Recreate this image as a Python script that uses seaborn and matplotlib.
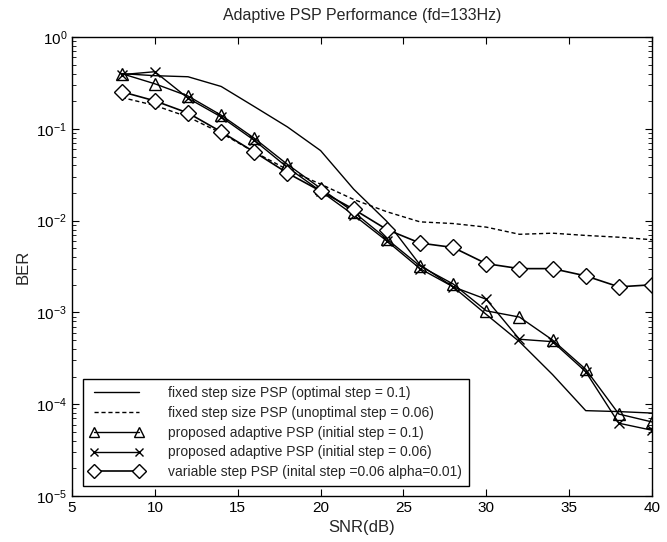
import numpy as np
import pandas as pd
import matplotlib
matplotlib.use("Agg")
import matplotlib.pyplot as plt
import seaborn as sns

# SNR points (dB)
snr = [8, 10, 12, 14, 16, 18, 20, 22, 24, 26, 28, 30, 32, 34, 36, 38, 40]

# BER values
fixed_opt = [0.40, 0.38, 0.37, 0.29, 0.175, 0.105, 0.058, 0.022, 0.0098, 0.0033,
             0.0019, 0.00095, 0.00048, 0.00021, 0.000085, 0.000083, 0.00008]
fixed_unopt = [0.22, 0.18, 0.135, 0.09, 0.056, 0.036, 0.025, 0.017, 0.0125, 0.0097,
               0.0093, 0.0085, 0.0071, 0.0073, 0.0069, 0.0066, 0.0062]
adapt_01 = [0.40, 0.31, 0.228, 0.141, 0.079, 0.041, 0.0225, 0.0124, 0.0063, 0.0032,
            0.00204, 0.00104, 0.00089, 0.0005, 0.00024, 0.000078, 0.000064]
adapt_006 = [0.39, 0.42, 0.216, 0.135, 0.075, 0.038, 0.021, 0.0115, 0.0060, 0.0030,
             0.0019, 0.00139, 0.00051, 0.00048, 0.000226, 0.000062, 0.000052]
variable_step = [0.254, 0.202, 0.149, 0.093, 0.056, 0.033, 0.021, 0.0133, 0.0080, 0.0057,
                 0.0051, 0.0034, 0.0030, 0.0030, 0.0025, 0.0019, 0.0020]

labels = ["fixed step size PSP (optimal step = 0.1)",
          "fixed step size PSP (unoptimal step = 0.06)",
          "proposed adaptive PSP (initial step = 0.1)",
          "proposed adaptive PSP (initial step = 0.06)",
          "variable step PSP (inital step =0.06 alpha=0.01)"]

sns.set_style("ticks")
plt.rcParams['font.family'] = ['Liberation Sans', 'DejaVu Sans']
plt.rcParams['mathtext.fontset'] = 'custom'
plt.rcParams['mathtext.rm'] = 'Liberation Sans'
plt.rcParams['mathtext.default'] = 'regular'

fig = plt.figure(figsize=(6.67, 5.42), dpi=100)
ax = fig.add_axes([0.108, 0.085, 0.8695, 0.8465])

#drawing each series
sns.lineplot(x=snr, y=fixed_opt, ax=ax, color="black", linewidth=1.0, label=labels[0])
sns.lineplot(x=snr, y=fixed_unopt, ax=ax, color="black", linewidth=1.0, linestyle=(0, (3, 2)), label=labels[1])
sns.lineplot(x=snr, y=adapt_01, ax=ax, color="black", linewidth=1.0, marker="^", markersize=9,
             markerfacecolor="none", markeredgecolor="black", markeredgewidth=1.0, label=labels[2])
sns.lineplot(x=snr, y=adapt_006, ax=ax, color="black", linewidth=1.0, marker="x", markersize=7,
             markeredgecolor="black", markeredgewidth=1.0, label=labels[3])
sns.lineplot(x=snr, y=variable_step, ax=ax, color="black", linewidth=1.2, marker="D", markersize=8,
             markerfacecolor="white", markeredgecolor="black", markeredgewidth=1.0, label=labels[4])

ax.set_yscale("log")
ax.set_xlim(5, 40)
ax.set_ylim(1e-5, 1)
ax.set_xticks([5, 10, 15, 20, 25, 30, 35, 40])
ax.set_yticks([1e-5, 1e-4, 1e-3, 1e-2, 1e-1, 1])
ax.tick_params(which="both", direction="in", top=True, right=True, labelsize=11, colors="black")
ax.tick_params(which="major", length=5)
ax.tick_params(which="minor", length=3)
for s in ax.spines.values():
    s.set_linewidth(1.0)
    s.set_color("black")

ax.set_title("Adaptive PSP Performance (fd=133Hz)", fontsize=11.5, pad=12)
ax.set_xlabel("SNR(dB)", fontsize=12)
ax.set_ylabel("BER", fontsize=12)

leg = ax.legend(loc="lower left", bbox_to_anchor=(0.012, 0.012), numpoints=2, handlelength=3.8,
                fontsize=10, frameon=True, fancybox=False, edgecolor="black", framealpha=1,
                borderpad=0.5, labelspacing=0.42, handletextpad=1.8, markerscale=0.85,
                borderaxespad=0.3)
leg.get_frame().set_linewidth(1.0)

fig.savefig("out.png", dpi=100)
